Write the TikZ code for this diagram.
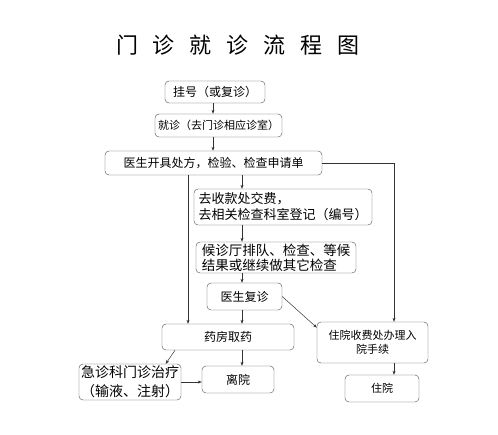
\documentclass[tikz,border=0pt]{standalone}
\usepackage{fontspec}
\setmainfont{Noto Sans CJK SC}
\usetikzlibrary{positioning,arrows.meta}
\newcommand{\tgap}{\hspace{15pt}}

\begin{document}
\begin{tikzpicture}[x=1pt, y=-1pt, every node/.style={font=\fontsize{12}{15}\selectfont},
  box/.style={draw=black!70, rounded corners=4pt, inner sep=0pt, align=center},
  arr/.style={-{Stealth[length=4pt,width=3pt]}, black!80, line width=0.5pt}]
\useasboundingbox[fill=white] (0,0) rectangle (498,434);
% title
\node[font=\fontsize{22}{24}\selectfont] (title) at (238,45) {门\tgap 诊\tgap 就\tgap 诊\tgap 流\tgap 程\tgap 图};
% main column
\node[box, minimum width=100pt, minimum height=22pt] (reg) at (215,92) {挂号（或复诊）};
\node[box, minimum width=127pt, minimum height=23pt, font=\fontsize{11}{13}\selectfont] (visit) at (218.5,125.5) {就诊（去门诊相应诊室）};
\node[box, minimum width=217pt, minimum height=24pt] (order) at (213.5,163) {医生开具处方，检验、检查申请单};
\node[box, align=left, minimum width=178pt, minimum height=36pt, font=\fontsize{13}{16}\selectfont] (pay) at (283,207) {去收款处交费，\\去相关检查科室登记（编号）};
\node[box, align=left, minimum width=160pt, minimum height=31pt, font=\fontsize{13.5}{15}\selectfont] (wait) at (276,257.5) {候诊厅排队、检查、等候\\结果或继续做其它检查};
\node[box, minimum width=75pt, minimum height=27pt] (recheck) at (244.5,296.5) {医生复诊};
\node[box, minimum width=132pt, minimum height=26pt] (drug) at (228,337) {药房取药};
\node[box, minimum width=111pt, minimum height=41pt, font=\fontsize{11}{14}\selectfont] (admit) at (372.5,342.5) {住院收费处办理入\\院手续};
\node[box, minimum width=102pt, minimum height=36pt, font=\fontsize{14}{19}\selectfont] (emerg) at (130,382) {急诊科门诊治疗\\（输液、注射）};
\node[box, minimum width=72pt, minimum height=27pt] (leave) at (238,379.5) {离院};
\node[box, minimum width=74pt, minimum height=27pt, font=\fontsize{11}{13}\selectfont] (stay) at (382,388.5) {住院};
% columns for the connectors
\coordinate (top) at (213,0);
\coordinate (mid) at (242,0);
\coordinate (lft) at (188,0);
\coordinate (rgt) at (394,0);
\draw[arr] (top |- reg.south) -- (top |- visit.north);
\draw[arr] (top |- visit.south) -- (top |- order.north);
\draw[arr] (mid |- order.south) -- (mid |- pay.north);
\draw[arr] (mid |- pay.south) -- (mid |- wait.north);
\draw[arr] (mid |- wait.south) -- (mid |- recheck.north);
\draw[arr] (mid |- recheck.south) -- (mid |- drug.north);
\draw[arr] (mid |- drug.south) -- (mid |- leave.north);
\draw[arr] (lft |- order.south) -- (lft |- drug.north);
\draw[arr] (order.east) -| (rgt |- admit.north);
\draw[arr] (recheck.east) -- (admit.165);
\draw[arr] (drug.194) -- (emerg.27);
\draw[arr] (emerg.east) -- (emerg.east -| leave.west);
\draw[arr] (rgt |- admit.south) -- (rgt |- stay.north);
\end{tikzpicture}
\end{document}
